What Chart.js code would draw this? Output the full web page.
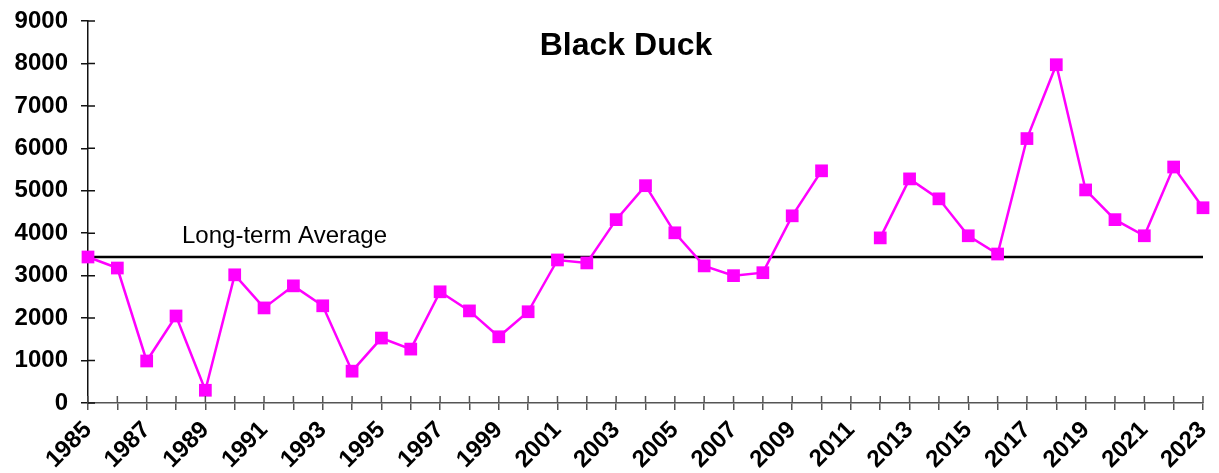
<!DOCTYPE html>
<html>
<head>
<meta charset="utf-8">
<script src="https://cdn.jsdelivr.net/npm/chart.js@4/dist/chart.umd.min.js"></script>
<style>
  html, body { margin: 0; padding: 0; background: #fff; }
  #wrap { width: 1219px; height: 473px; position: relative; }
</style>
</head>
<body>
<div id="wrap"><canvas id="c" width="1219" height="473"></canvas></div>
<script>
const years = [1985,1986,1987,1988,1989,1990,1991,1992,1993,1994,1995,1996,1997,1998,1999,2000,2001,2002,2003,2004,2005,2006,2007,2008,2009,2010,2011,2012,2013,2014,2015,2016,2017,2018,2019,2020,2021,2022,2023];
const blackDuck = [3440,3180,990,2050,300,3020,2240,2760,2290,750,1530,1270,2620,2170,1560,2150,3370,3300,4320,5120,4010,3230,3000,3070,4410,5470,null,3890,5280,4810,3940,3510,6230,7970,5020,4320,3940,5560,4600];
const longTermAverage = 3440;
const yTicks = [0,1000,2000,3000,4000,5000,6000,7000,8000,9000];
const chartTitle = "Black Duck";
const averageLabel = "Long-term Average";

const FONT = "'Liberation Sans', Arial, sans-serif";
const X_AXIS_COLOR = '#555';
const Y_AXIS_COLOR = '#111';
const TICK_LEN = 7;

const crossTicks = {
  id: 'crossTicks',
  afterDraw(chart) {
    const ctx = chart.ctx, xs = chart.scales.x, ys = chart.scales.y;
    ctx.save();
    ctx.lineWidth = 1.5;
    ctx.strokeStyle = X_AXIS_COLOR;
    ctx.beginPath();
    xs.ticks.forEach((t, i) => {
      const px = xs.getPixelForTick(i);
      ctx.moveTo(px, ys.bottom); ctx.lineTo(px, ys.bottom - TICK_LEN);
    });
    ctx.stroke();
    ctx.strokeStyle = Y_AXIS_COLOR;
    ctx.beginPath();
    yTicks.forEach(v => {
      const py = ys.getPixelForValue(v);
      ctx.moveTo(xs.left, py); ctx.lineTo(xs.left + TICK_LEN, py);
    });
    ctx.stroke();
    // title
    ctx.fillStyle = '#000';
    ctx.font = "bold 32px " + FONT;
    ctx.textAlign = 'center';
    ctx.textBaseline = 'middle';
    ctx.fillText(chartTitle, 626, 46);
    // average label
    ctx.font = "24px " + FONT;
    ctx.textAlign = 'left';
    ctx.textBaseline = 'bottom';
    const ay = ys.getPixelForValue(longTermAverage);
    ctx.fillText(averageLabel, 182, ay - 9);
    ctx.restore();
  }
};

function noPad(scale) {
  scale.paddingTop = 0; scale.paddingBottom = 0;
  scale.paddingLeft = 0; scale.paddingRight = 0;
}

new Chart(document.getElementById('c'), {
  type: 'line',
  data: {
    labels: years.map(String),
    datasets: [
      {
        label: 'Long-term Average',
        data: years.map(() => longTermAverage),
        borderColor: '#000',
        borderWidth: 2.5,
        pointRadius: 0,
        fill: false,
        order: 2
      },
      {
        label: chartTitle,
        data: blackDuck,
        borderColor: '#FF00FF',
        backgroundColor: '#FF00FF',
        borderWidth: 2.5,
        pointStyle: 'rect',
        pointRadius: 9,
        pointHoverRadius: 9,
        pointBorderWidth: 0,
        spanGaps: false,
        tension: 0,
        fill: false,
        order: 1
      }
    ]
  },
  options: {
    responsive: false,
    animation: false,
    events: [],
    layout: { padding: { top: 21, right: 16, left: 0, bottom: 0 } },
    plugins: { legend: { display: false }, title: { display: false }, tooltip: { enabled: false } },
    scales: {
      x: {
        type: 'category',
        offset: false,
        grid: { display: true, drawOnChartArea: false, drawTicks: true, tickLength: TICK_LEN, color: X_AXIS_COLOR, lineWidth: 1.5 },
        border: { display: true, color: X_AXIS_COLOR, width: 1.5 },
        ticks: {
          autoSkip: false,
          minRotation: 45, maxRotation: 45,
          padding: 6,
          color: '#000',
          font: { family: FONT, size: 24, weight: 'bold' },
          callback: function(v, i) { return (years[i] - years[0]) % 2 === 0 ? String(years[i]) : ''; }
        },
        afterFit(scale) { scale.height = 70; noPad(scale); }
      },
      y: {
        min: 0, max: 9000,
        afterBuildTicks(scale) { scale.ticks = yTicks.map(v => ({ value: v })); },
        grid: { display: true, drawOnChartArea: false, drawTicks: true, tickLength: TICK_LEN, color: Y_AXIS_COLOR, lineWidth: 1.5 },
        border: { display: true, color: Y_AXIS_COLOR, width: 1.5 },
        ticks: {
          padding: 13,
          color: '#000',
          font: { family: FONT, size: 24, weight: 'bold' },
          callback: function(v) { return String(v); }
        },
        afterFit(scale) { scale.width = 88; noPad(scale); }
      }
    }
  },
  plugins: [crossTicks]
});
</script>
</body>
</html>
